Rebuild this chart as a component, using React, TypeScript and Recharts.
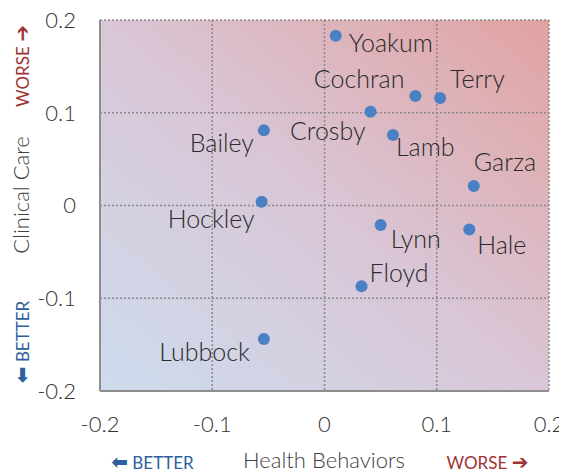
import React from "react";
import { ScatterChart, Scatter, XAxis, YAxis, CartesianGrid } from "recharts";

const counties = ["Yoakum", "Cochran", "Terry", "Crosby", "Bailey", "Lamb", "Garza", "Hockley", "Lynn", "Hale", "Floyd", "Lubbock"];
const healthBehaviors = [0.010, 0.081, 0.103, 0.041, -0.054, 0.061, 0.133, -0.056, 0.050, 0.129, 0.033, -0.054];
const clinicalCare = [0.183, 0.118, 0.116, 0.101, 0.081, 0.076, 0.021, 0.004, -0.021, -0.026, -0.087, -0.144];
const axisTicks = [-0.2, -0.1, 0, 0.1, 0.2];

// label placement (style, not data): [dx, dy, anchor]
const labelPlacement: Record<string, [number, number, "start" | "end"]> = {
  Yoakum: [13, 16, "start"],
  Cochran: [-11, -8, "end"],
  Terry: [10, -10, "start"],
  Crosby: [-5, 28, "end"],
  Bailey: [-10, 22, "end"],
  Lamb: [3, 21, "start"],
  Garza: [0, -15, "start"],
  Hockley: [-7, 26, "end"],
  Lynn: [10, 23, "start"],
  Hale: [8, 24, "start"],
  Floyd: [8, -4, "start"],
  Lubbock: [-14, 22, "end"],
};

const data = counties.map((name, i) => ({ name, x: healthBehaviors[i], y: clinicalCare[i] }));

const FONT = "Lato, 'Open Sans', 'DejaVu Sans', sans-serif";
const RED = "#9e3333";
const BLUE = "#2f5f9c";

const PointShape = (props: any) => {
  const { cx, cy, payload } = props;
  const p = labelPlacement[payload.name] || [8, 0, "start"];
  return (
    <g>
      <circle cx={cx} cy={cy} r={6} fill="#4a80c4" />
      <text
        x={cx + p[0]}
        y={cy + p[1]}
        textAnchor={p[2]}
        fontFamily={FONT}
        fontWeight={300}
        fontSize={25}
        fill="#2a2a2a"
      >
        {payload.name}
      </text>
    </g>
  );
};

const Arrow = ({ ch }: { ch: string }) => (
  <tspan fontSize={20} fontWeight={700} fontFamily="'DejaVu Sans', sans-serif">
    {ch}
  </tspan>
);

export default function App() {
  const W = 567;
  const H = 473;
  return (
    <div style={{ position: "relative", width: W, height: H, margin: "-8px 0 0 -8px" }}>
      <ScatterChart width={W} height={H} margin={{ top: 20, right: 18, left: 0, bottom: 0 }}>
        <defs>
          <linearGradient id="bgGrad" x1="0" y1="1" x2="1" y2="0">
            <stop offset="0%" stopColor="#cddcee" />
            <stop offset="50%" stopColor="#d9c6d6" />
            <stop offset="100%" stopColor="#e1a2a1" />
          </linearGradient>
        </defs>
        <CartesianGrid
          fill="url(#bgGrad)"
          fillOpacity={1}
          stroke="#8a8a8a"
          strokeWidth={1.5}
          strokeDasharray="2 2"
          horizontalValues={axisTicks}
          verticalValues={axisTicks}
        />
        <XAxis
          type="number"
          dataKey="x"
          domain={[-0.2, 0.2]}
          ticks={axisTicks}
          height={82}
          tickSize={0}
          tickMargin={25}
          axisLine={{ stroke: "#8e8e8e", strokeWidth: 2 }}
          tick={{ fill: "#333", fontSize: 22, fontFamily: FONT, fontWeight: 300 }}
          allowDataOverflow
        />
        <YAxis
          type="number"
          dataKey="y"
          domain={[-0.2, 0.2]}
          ticks={axisTicks}
          width={100}
          tickSize={0}
          tickMargin={24}
          axisLine={{ stroke: "#8e8e8e", strokeWidth: 2 }}
          tick={{ fill: "#333", fontSize: 22, fontFamily: FONT, fontWeight: 300 }}
          allowDataOverflow
        />
        <Scatter data={data} shape={PointShape} isAnimationActive={false} />
      </ScatterChart>
      <svg
        width={W}
        height={H}
        style={{ position: "absolute", left: 0, top: 0, pointerEvents: "none" }}
      >
        <text
          transform="translate(29,195) rotate(-90)"
          textAnchor="middle"
          fontFamily={FONT}
          fontWeight={300}
          fontSize={22}
          fill="#404040"
        >
          Clinical Care
        </text>
        <text
          transform="translate(29,66) rotate(-90)"
          textAnchor="middle"
          fontFamily={FONT}
          fontSize={17}
          fill={RED}
        >
          WORSE <Arrow ch="➔" />
        </text>
        <text
          transform="translate(29,342) rotate(-90)"
          textAnchor="middle"
          fontFamily={FONT}
          fontSize={17}
          fill={BLUE}
        >
          <Arrow ch="⬅" /> BETTER
        </text>
        <text x={152.5} y={469} textAnchor="middle" fontFamily={FONT} fontSize={17} fill={BLUE}>
          <Arrow ch="⬅" /> BETTER
        </text>
        <text
          x={324}
          y={468}
          textAnchor="middle"
          fontFamily={FONT}
          fontWeight={300}
          fontSize={22}
          fill="#404040"
        >
          Health Behaviors
        </text>
        <text x={487.5} y={469} textAnchor="middle" fontFamily={FONT} fontSize={17} fill={RED}>
          WORSE <Arrow ch="➔" />
        </text>
      </svg>
    </div>
  );
}
